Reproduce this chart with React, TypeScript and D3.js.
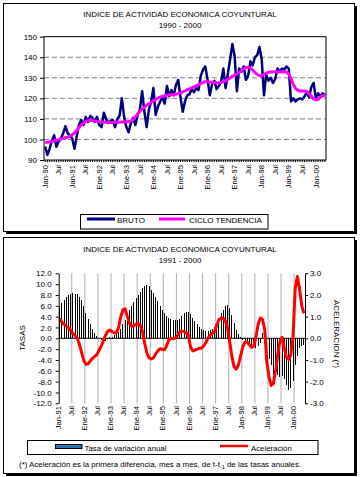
import React, { useRef, useEffect } from 'react';
import * as d3 from 'd3';

// Indice mensual, Jan-90 .. May-00
const bruto = [
  96.5, 92.5, 95.5, 99.5, 102, 96.5, 99, 100.5, 103, 106.5, 103, 102,
  100.5, 95.5, 101.5, 107, 109.5, 107, 111, 108.5, 111.5, 110.5, 108.5, 111,
  107, 106, 113, 110, 108, 109, 109.5, 106, 110, 111.5, 120, 111,
  106, 103.5, 108, 110.5, 107, 112, 114.5, 123.5, 113.5, 106, 114.5, 118.5,
  125, 112, 116, 118.5, 120.5, 117.5, 126, 121, 124, 121.5, 126.5, 129,
  120.5, 113.5, 118.5, 121.5, 122, 124.5, 123, 125, 124, 131, 134, 135.5,
  129, 121.5, 127, 128.5, 124.5, 126, 128, 134.5, 125, 132, 139, 146.5,
  140.5, 123.5, 134.5, 133, 135.5, 129, 131, 138, 136, 140, 141, 145,
  139, 121.5, 131.5, 128.5, 130, 127.5, 129.5, 134.5, 133, 134.5, 134, 135.5,
  134.5, 118.5, 120, 118.5, 119.5, 120, 119.5, 121, 123, 120.5, 125.5, 127.5,
  120, 122.5, 121, 122.5, 121.5,
];

const tendencia = [
  98.5, 98.6, 98.8, 99, 99.3, 99.6, 99.9, 100.2, 100.5, 100.8, 101.1, 101.6,
  102.3, 103.2, 104.4, 105.7, 107, 108, 108.8, 109.2, 109.3, 109.2, 109, 108.8,
  108.6, 108.5, 108.4, 108.4, 108.3, 108.3, 108.3, 108.4, 108.4, 108.4, 108.5, 108.5,
  108.6, 108.7, 109, 109.8, 111, 112.4, 113.7, 114.8, 115.7, 116.6, 117.4, 118.1,
  118.8, 119.5, 120.1, 120.6, 121, 121.3, 121.5, 121.6, 121.7, 121.8, 122, 122.3,
  122.7, 123.2, 123.7, 124.2, 124.6, 125.1, 125.6, 126.1, 126.7, 127.3, 127.8, 128.1,
  128.1, 127.9, 127.8, 127.7, 127.6, 127.6, 127.7, 128, 128.6, 129.3, 130, 130.7,
  131.3, 131.8, 132.6, 133.5, 134.3, 135, 135.2, 134.8, 133.8, 132.6, 131.6, 131,
  131, 131.6, 132.2, 132.6, 132.8, 132.9, 132.9, 132.8, 132.8, 132.9, 133, 132.8,
  131.8, 129.5, 126.8, 124.9, 123.9, 123.6, 123.6, 123.6, 123.3, 122.3, 121, 119.7,
  119.2, 119.5, 120.6, 121.2, 121.5,
];

// Tasa de variacion anual, Jan-91 .. May-00
const tasaAnual = [
  5.8, 6.5, 7.1, 7.6, 8.0, 8.2, 8.3, 8.2, 8.1, 7.7, 7.1, 5.9,
  4.7, 3.6, 2.6, 1.7, 1.0, 0.5, 0.1, -0.4, -0.6, -0.5, -0.2, 0.2,
  0.3, 0.6, 0.8, 1.2, 1.8, 2.6, 3.4, 4.3, 5.2, 6.0, 6.7, 7.4,
  8.0, 8.6, 9.2, 9.6, 9.8, 9.6, 9.0, 8.3, 7.6, 6.8, 6.0, 5.2,
  4.6, 4.1, 3.7, 3.5, 3.4, 3.3, 3.3, 3.6, 4.1, 4.6, 4.9, 4.8,
  4.4, 3.8, 3.2, 2.6, 2.1, 1.7, 1.5, 1.4, 1.4, 1.6, 1.8, 2.0,
  2.8, 3.7, 4.6, 5.3, 5.9, 6.1, 5.6, 4.3, 2.8, 1.6, 0.8, 0.2,
  -0.3, -0.6, -0.9, -1.2, -1.5, -1.3, -1.8, -1.4, -0.8, 1.0, -1.0, -3.0,
  -3.8, -5.0, -6.8, -7.0, -6.8, -7.2, -7.0, -7.6, -8.6, -9.5, -9.2, -7.8,
  -4.9, -3.2, -1.8, -1.5, -1.3,
];

const aceleracion = [
  0.92, 0.74, 0.64, 0.56, 0.48, 0.36, 0.22, 0.12, 0.0, -0.28, -0.66, -1.02,
  -1.2, -1.18, -1.04, -0.93, -0.84, -0.75, -0.56, -0.36, -0.12, 0.14, 0.32, 0.38,
  0.31, 0.24, 0.27, 0.5, 1.0, 1.32, 1.36, 1.0, 0.68, 0.56, 0.58, 0.66,
  0.68, 0.6, 0.28, -0.25, -0.7, -0.9, -0.95, -0.9, -0.72, -0.58, -0.48, -0.52,
  -0.53, -0.35, -0.08, 0.0, -0.02, 0.02, 0.12, 0.28, 0.33, 0.31, 0.27, 0.12,
  -0.4, -0.58, -0.55, -0.5, -0.46, -0.46, -0.35, -0.2, 0.02, 0.14, 0.24, 0.3,
  0.6, 0.86, 0.92, 0.92, 0.8, 0.46, -0.18, -0.88, -1.32, -1.42, -1.22, -0.8,
  -0.38, -0.18, -0.16, -0.3, -0.42, -0.36, 0.05, 0.65, 0.94, 0.88, 0.42, -1.1,
  -1.8, -2.18, -2.08, -1.5, -0.75, -0.15, 0.05, -0.45, -0.88, -0.98, -0.75, 0.05,
  2.3, 2.85, 2.3, 1.5, 1.15,
];

const xLabels1 = ['Jan-90', 'Jul', 'Jan-91', 'Jul', 'Ene-92', 'Jul', 'Ene-93', 'Jul', 'Ene-94', 'Jul',
  'Ene-95', 'Jul', 'Ene-96', 'Jul', 'Ene-97', 'Jul', 'Jan-98', 'Jul', 'Jan-99', 'Jul', 'Jan-00'];
const xLabels2 = ['Jan-91', 'Jul', 'Ene-92', 'Jul', 'Ene-93', 'Jul', 'Ene-94', 'Jul', 'Ene-95', 'Jul',
  'Ene-96', 'Jul', 'Ene-97', 'Jul', 'Jan-98', 'Jul', 'Jan-99', 'Jul', 'Jan-00'];
const yTicks1 = [90, 100, 110, 120, 130, 140, 150];
const yTicksLeft2 = [12, 10, 8, 6, 4, 2, 0, -2, -4, -6, -8, -10, -12];
const yTicksRight2 = [3, 2, 1, 0, -1, -2, -3];

const FONT = '"Liberation Sans", Arial, sans-serif';

const App: React.FC = () => {
  const ref = useRef<SVGSVGElement | null>(null);

  useEffect(() => {
    if (!ref.current) return;
    const svg = d3.select(ref.current);
    svg.selectAll('*').remove();

    const frame = (x: number, y: number, w: number, h: number) => {
      svg.append('rect').attr('x', x + 3).attr('y', y + 3).attr('width', w).attr('height', h).attr('fill', '#000');
      svg.append('rect').attr('x', x + 0.5).attr('y', y + 0.5).attr('width', w).attr('height', h)
        .attr('fill', '#fff').attr('stroke', '#000');
    };
    const label = (txt: string, x: number, y: number, anchor = 'middle', size = 8) =>
      svg.append('text').attr('x', x).attr('y', y).attr('text-anchor', anchor)
        .attr('font-size', size).attr('fill', '#000').text(txt);

    // ---------- panel 1 ----------
    frame(3, 3, 351, 228);
    label('INDICE DE ACTIVIDAD ECONOMICA COYUNTURAL', 180, 17);
    label('1990 - 2000', 180, 27.5);

    const x1 = d3.scaleBand<number>().domain(d3.range(bruto.length)).range([44, 326]);
    const y1 = d3.scaleLinear().domain([90, 150]).range([160, 36.7]);
    const cx1 = (i: number) => (x1(i) as number) + x1.bandwidth() / 2;

    svg.append('g').selectAll('line').data(yTicks1.slice(1, -1)).join('line')
      .attr('x1', 44).attr('x2', 326).attr('y1', d => y1(d)).attr('y2', d => y1(d))
      .attr('stroke', '#808080').attr('stroke-dasharray', '5,3');

    svg.append('path').datum(bruto).attr('fill', 'none').attr('stroke', '#000080')
      .attr('stroke-width', 2.5).attr('stroke-linejoin', 'round')
      .attr('d', d3.line<number>().x((_, i) => cx1(i)).y(d => y1(d)));
    svg.append('path').datum(tendencia).attr('fill', 'none').attr('stroke', '#ff00ff')
      .attr('stroke-width', 3).attr('stroke-linejoin', 'round')
      .attr('d', d3.line<number>().x((_, i) => cx1(i)).y(d => y1(d)));

    svg.append('rect').attr('x', 44).attr('y', 36.7).attr('width', 282).attr('height', 123.3)
      .attr('fill', 'none').attr('stroke', '#000');

    const gy1 = svg.append('g').attr('transform', 'translate(44,0)')
      .call(d3.axisLeft(y1).tickValues(yTicks1).tickSize(4).tickPadding(3).tickFormat(d => String(d)));
    gy1.select('.domain').remove();
    gy1.attr('font-size', 8).attr('font-family', FONT);

    const gx1 = svg.append('g').attr('transform', 'translate(0,160)')
      .call(d3.axisBottom(x1).tickSize(2).tickFormat(i => (i % 6 === 0 ? xLabels1[i / 6] : '')));
    gx1.select('.domain').remove();
    gx1.attr('font-size', 7.6).attr('font-family', FONT);
    gx1.selectAll('text').attr('transform', 'rotate(-90)').attr('x', -5).attr('y', 0)
      .attr('dy', '0.35em').style('text-anchor', 'end');

    // legend 1
    svg.append('rect').attr('x', 80.5).attr('y', 214.5).attr('width', 187.5).attr('height', 14.5)
      .attr('fill', '#fff').attr('stroke', '#000');
    svg.append('line').attr('x1', 87).attr('x2', 115).attr('y1', 219).attr('y2', 219)
      .attr('stroke', '#000080').attr('stroke-width', 3);
    label('BRUTO', 117, 223.3, 'start');
    svg.append('line').attr('x1', 159).attr('x2', 185).attr('y1', 219).attr('y2', 219)
      .attr('stroke', '#ff00ff').attr('stroke-width', 3);
    label('CICLO TENDENCIA', 189, 223.3, 'start');

    // ---------- panel 2 ----------
    frame(3, 237, 351, 236);
    label('INDICE DE ACTIVIDAD ECONOMICA COYUNTURAL', 180, 252);
    label('1991 - 2000', 180, 263);

    const x2 = d3.scaleBand<number>().domain(d3.range(tasaAnual.length)).range([58.7, 305]);
    const y2 = d3.scaleLinear().domain([-12, 12]).range([403.3, 273.3]);
    const yR = d3.scaleLinear().domain([-3, 3]).range([403.3, 273.3]);
    const bw = x2.bandwidth();
    const cx2 = (i: number) => (x2(i) as number) + bw / 2;

    const gridIdx = d3.range(6, tasaAnual.length, 6);
    svg.append('g').selectAll('line').data(gridIdx).join('line')
      .attr('x1', d => x2(d) as number).attr('x2', d => x2(d) as number)
      .attr('y1', 273.3).attr('y2', 403.3).attr('stroke', '#b0b0b0');

    svg.append('g').attr('shape-rendering', 'crispEdges')
      .selectAll('rect').data(tasaAnual).join('rect')
      .attr('x', (_, i) => Math.round(cx2(i) - 0.5))
      .attr('width', 1)
      .attr('y', d => y2(Math.max(0, d)))
      .attr('height', d => Math.abs(y2(d) - y2(0)))
      .attr('fill', '#000');

    svg.append('line').attr('x1', 58.7).attr('x2', 305).attr('y1', y2(0)).attr('y2', y2(0))
      .attr('stroke', '#000');

    svg.append('path').datum(aceleracion).attr('fill', 'none').attr('stroke', '#ff0000')
      .attr('stroke-width', 3).attr('stroke-linejoin', 'round')
      .attr('d', d3.line<number>().x((_, i) => cx2(i)).y(d => yR(d)));

    const gy2 = svg.append('g').attr('transform', 'translate(58.7,0)')
      .call(d3.axisLeft(y2).tickValues(yTicksLeft2).tickSize(3).tickPadding(4).tickSizeOuter(0)
        .tickFormat(d => (d as number).toFixed(1)));
    gy2.attr('font-size', 8).attr('font-family', FONT);

    const gyR = svg.append('g').attr('transform', 'translate(305,0)')
      .call(d3.axisRight(yR).tickValues(yTicksRight2).tickSize(3).tickPadding(2).tickSizeOuter(0)
        .tickFormat(d => (d as number).toFixed(1)));
    gyR.attr('font-size', 8).attr('font-family', FONT);

    svg.append('g').selectAll('text').data(xLabels2).join('text')
      .attr('transform', (_, k) => `translate(${(x2(k * 6) as number) - 0.5},406) rotate(-90)`)
      .attr('dy', '0.35em').attr('text-anchor', 'end').attr('font-size', 7.6).text(d => d);

    svg.append('text').attr('transform', 'translate(22.5,338) rotate(-90)')
      .attr('dy', '0.35em').attr('text-anchor', 'middle').attr('font-size', 8).text('TASAS');
    svg.append('text').attr('transform', 'translate(337,334) rotate(90)')
      .attr('dy', '0.35em').attr('text-anchor', 'middle').attr('font-size', 8).text('ACELERACION (*)');

    // legend 2
    svg.append('rect').attr('x', 27.5).attr('y', 440.5).attr('width', 290.5).attr('height', 14)
      .attr('fill', '#fff').attr('stroke', '#000');
    svg.append('rect').attr('x', 55.5).attr('y', 444.5).attr('width', 26.5).attr('height', 4)
      .attr('fill', '#2f73b5').attr('stroke', '#000');
    label('Tasa de variación anual', 84.5, 450.5, 'start', 7.8);
    svg.append('line').attr('x1', 220).attr('x2', 248).attr('y1', 446).attr('y2', 446)
      .attr('stroke', '#ff0000').attr('stroke-width', 2.5);
    label('Aceleración', 251, 450.5, 'start', 7.8);

    const note = svg.append('text').attr('x', 19).attr('y', 467).attr('font-size', 7.9);
    note.append('tspan').text('(*) Aceleración es la primera diferencia, mes a mes, de t-t');
    note.append('tspan').attr('font-size', 5.5).attr('dy', 2).text('-1');
    note.append('tspan').attr('dy', -2).text(' de las tasas anuales.');
  }, []);

  return (
    <svg ref={ref} width={361} height={477} fontFamily={FONT}
      style={{ position: 'absolute', left: 0, top: 0, background: '#fff' }} />
  );
};

export default App;
